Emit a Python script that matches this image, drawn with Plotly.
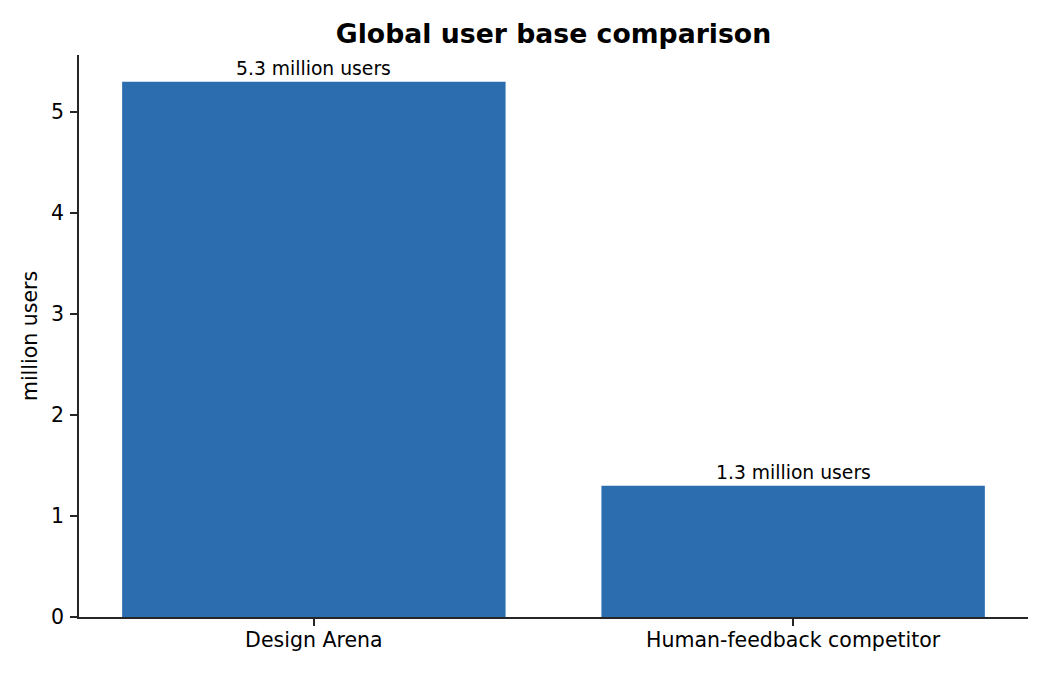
import plotly.graph_objects as go

categories = ["Design Arena", "Human-feedback competitor"]
users_millions = [5.3, 1.3]
bar_labels = ["5.3 million users", "1.3 million users"]
y_ticks = [0, 1, 2, 3, 4, 5]

bar_color = "#2c6db0"
axis_color = "#262626"
font_family = "DejaVu Sans"

fig = go.Figure()
fig.add_trace(go.Bar(
    x=[0, 1],
    y=users_millions,
    width=0.8,
    marker=dict(color=bar_color, line=dict(width=0)),
    showlegend=False,
))

# value labels just above each bar
for i, (val, lab) in enumerate(zip(users_millions, bar_labels)):
    fig.add_annotation(x=i, y=val, text=lab, showarrow=False,
                       yanchor="bottom", yshift=1,
                       font=dict(size=18.75, color="black", family=font_family))

# page body adds an 8px offset, so margins are shifted to compensate
fig.update_layout(
    width=1050, height=675,
    paper_bgcolor="white", plot_bgcolor="white",
    margin=dict(l=71, r=30, t=47, b=66, autoexpand=False),
    font=dict(family=font_family, color="black"),
    title=dict(text="<b>Global user base comparison</b>", x=545.5 / 1050, xanchor="center",
               y=1 - 26 / 675, yanchor="middle",
               font=dict(size=26.7, family=font_family, color="black")),
)
fig.update_xaxes(
    range=[-0.49, 1.49], tickvals=[0, 1], ticktext=categories,
    showgrid=False, zeroline=False,
    showline=True, linecolor=axis_color, linewidth=1.7,
    ticks="outside", ticklen=7, tickwidth=1.7, tickcolor=axis_color,
    tickfont=dict(size=20.5, color="black"), ticklabelstandoff=-3,
)
fig.update_yaxes(
    range=[0, 5.565], tickvals=y_ticks,
    showgrid=False, zeroline=False,
    showline=True, linecolor=axis_color, linewidth=1.7,
    ticks="outside", ticklen=7, tickwidth=1.7, tickcolor=axis_color,
    tickfont=dict(size=20.5, color="black"), ticklabelstandoff=2,
    title=dict(text="million users", font=dict(size=20.5, color="black"), standoff=8),
)

fig.write_html("out.html")
